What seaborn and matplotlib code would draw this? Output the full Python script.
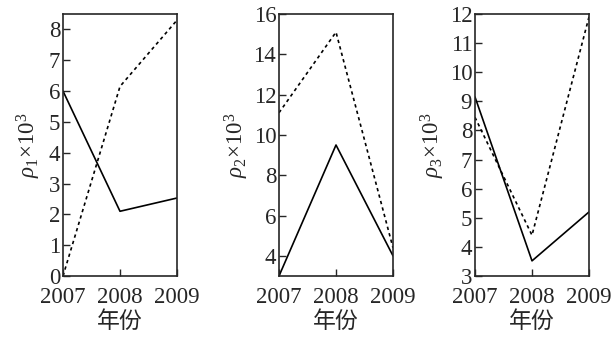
import matplotlib
matplotlib.use("Agg")
import matplotlib.pyplot as plt
import pandas as pd
import seaborn as sns

# ── Data ─────────────────────────────────────────────────────────────────────
years = [2007, 2008, 2009]

rho1_solid = [6.0, 2.1, 2.53]
rho1_dotted = [0.0, 6.15, 8.3]

rho2_solid = [3.0, 9.5, 4.0]
rho2_dotted = [11.1, 15.1, 4.4]

rho3_solid = [9.15, 3.52, 5.2]
rho3_dotted = [8.45, 4.4, 11.9]

ylabels = [r"$\rho_1$×10$^3$", r"$\rho_2$×10$^3$", r"$\rho_3$×10$^3$"]
ylims = [(0, 8.5), (3, 16), (3, 12)]
yticks = [list(range(0, 9)), list(range(4, 17, 2)), list(range(3, 13))]
xlabel = "年份"

# ── Style ────────────────────────────────────────────────────────────────────
sns.set_style("ticks")
plt.rcParams["font.family"] = ["Liberation Serif", "Noto Sans CJK SC", "DejaVu Sans"]
plt.rcParams["mathtext.fontset"] = "custom"
plt.rcParams["mathtext.rm"] = "Liberation Serif"
plt.rcParams["mathtext.it"] = "Liberation Serif:italic"
FS = 16.5
LW = 1.2

fig = plt.figure(figsize=(6.13, 3.40), dpi=100)
lefts = [63, 279, 475]
ypads = [4, 2, 2]
panels = [
    (rho1_solid, rho1_dotted),
    (rho2_solid, rho2_dotted),
    (rho3_solid, rho3_dotted),
]

for i, (solid, dotted) in enumerate(panels):
    ax = fig.add_axes([lefts[i] / 613, 1 - 276 / 340, 114 / 613, 262 / 340])
    df = pd.DataFrame({"year": years, "solid": solid, "dotted": dotted})
    sns.lineplot(data=df, x="year", y="solid", ax=ax, color="black", lw=LW)
    sns.lineplot(data=df, x="year", y="dotted", ax=ax, color="black", lw=LW,
                 linestyle=(0, (2, 2)))
    ax.set_xlim(2007, 2009)
    ax.set_ylim(*ylims[i])
    ax.set_xticks(years)
    ax.set_yticks(yticks[i])
    ax.tick_params(direction="in", length=5, width=1, labelsize=FS)
    ax.tick_params(axis="x", pad=8)
    ax.tick_params(axis="y", pad=2)
    ax.set_xlabel(xlabel, fontsize=FS, family=["Noto Sans CJK SC"], labelpad=1)
    ax.set_ylabel(ylabels[i], fontsize=FS, labelpad=ypads[i])
    for s in ax.spines.values():
        s.set_visible(True)
        s.set_linewidth(1.2)

fig.savefig("out.png", dpi=100)
